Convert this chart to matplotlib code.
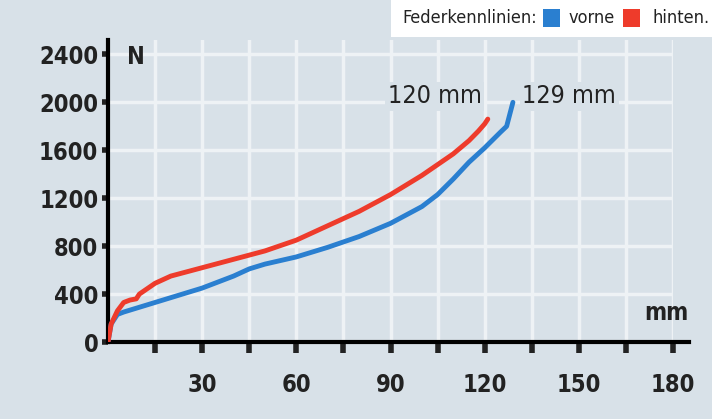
import matplotlib
matplotlib.use("Agg")
import matplotlib.pyplot as plt
from matplotlib.patches import Rectangle

FONT = "DejaVu Sans"
STRETCH = "condensed"

# spring curves (mm, N)
vorne_x = [0, 1, 3, 5, 10, 20, 30, 40, 45, 50, 60, 70, 80, 90, 100, 105, 110, 115, 120, 125, 127, 128, 129]
vorne_y = [0, 150, 230, 250, 290, 370, 450, 550, 610, 650, 710, 790, 880, 990, 1130, 1230, 1360, 1500, 1620, 1750, 1800, 1900, 2000]
hinten_x = [0, 1, 3, 5, 7, 9, 10, 15, 20, 30, 40, 50, 60, 70, 80, 90, 100, 110, 115, 118, 120, 121]
hinten_y = [0, 150, 260, 330, 350, 360, 400, 490, 550, 620, 690, 760, 850, 970, 1090, 1230, 1390, 1570, 1680, 1760, 1820, 1860]
x_labels = [30, 60, 90, 120, 150, 180]
y_labels = [0, 400, 800, 1200, 1600, 2000, 2400]

BG = "#d8e1e8"
GRID = "#eef2f5"
BLUE = "#2a7fd0"
RED = "#ee3b2b"

fig = plt.figure(figsize=(7.12, 4.19), dpi=100, facecolor=BG)
ax = fig.add_axes([108 / 712, 1 - 342 / 419, (673 - 108) / 712, (342 - 40) / 419])
ax.set_facecolor(BG)
ax.set_xlim(0, 180)
ax.set_ylim(0, 2520)

for gx in range(15, 181, 15):
    ax.axvline(gx, color=GRID, lw=2.5, zorder=1)
for gy in range(400, 2401, 400):
    ax.plot([0, 180], [gy, gy], color=GRID, lw=2.5, zorder=1, solid_capstyle="butt")

ax.plot(vorne_x, vorne_y, color=BLUE, lw=3.5, zorder=3, solid_capstyle="round")
ax.plot(hinten_x, hinten_y, color=RED, lw=3.5, zorder=4, solid_capstyle="round")

for s in ["top", "right"]:
    ax.spines[s].set_visible(False)
ax.spines["left"].set_linewidth(3)
ax.spines["bottom"].set_linewidth(3)
ax.spines["bottom"].set_bounds(0, 185)
ax.spines["bottom"].set_clip_on(False)

ax.set_xticks(range(15, 181, 15))
ax.set_xticklabels([str(v) if v in x_labels else "" for v in range(15, 181, 15)])
ax.set_yticks(y_labels)
ax.set_yticklabels([str(v) for v in y_labels])
ax.tick_params(axis="x", direction="out", length=8, width=4, color="#222", pad=14, labelsize=17)
ax.tick_params(axis="y", direction="out", length=4, width=4, color="#222", pad=3, labelsize=17)
for lab in ax.get_xticklabels() + ax.get_yticklabels():
    lab.set_fontfamily(FONT)
    lab.set_fontstretch(STRETCH)
    lab.set_fontweight("bold")
    lab.set_color("#222")

ax.text(6, 2380, "N", fontsize=17, fontweight="bold", family=FONT, stretch=STRETCH, color="#222", va="center")
ax.text(185, 240, "mm", fontsize=17, fontweight="bold", family=FONT, stretch=STRETCH, color="#222", ha="right", va="center")

bbox = dict(boxstyle="square,pad=0.1", fc=BG, ec="none")
ax.text(119, 2050, "120 mm", fontsize=18, family=FONT, stretch=STRETCH, color="#222", ha="right", va="center", bbox=bbox, zorder=5)
ax.text(132, 2050, "129 mm", fontsize=18, family=FONT, stretch=STRETCH, color="#222", ha="left", va="center", bbox=bbox, zorder=5)

# legend strip at top right
fig.patches.append(Rectangle((391 / 712, 1 - 37 / 419), 1, 37 / 419, transform=fig.transFigure, fc="white", ec="none"))
ty = 1 - 18 / 419
fig.text(402 / 712, ty, "Federkennlinien:", fontsize=13, family=FONT, stretch=STRETCH, color="#222", va="center")
fig.patches.append(Rectangle((543 / 712, 1 - 27 / 419), 17 / 712, 18 / 419, transform=fig.transFigure, fc=BLUE, ec="none"))
fig.text(569 / 712, ty, "vorne", fontsize=13, family=FONT, stretch=STRETCH, color="#222", va="center")
fig.patches.append(Rectangle((623 / 712, 1 - 27 / 419), 17 / 712, 18 / 419, transform=fig.transFigure, fc=RED, ec="none"))
fig.text(652 / 712, ty, "hinten.", fontsize=13, family=FONT, stretch=STRETCH, color="#222", va="center")

fig.savefig("out.png", dpi=100, facecolor=BG)
